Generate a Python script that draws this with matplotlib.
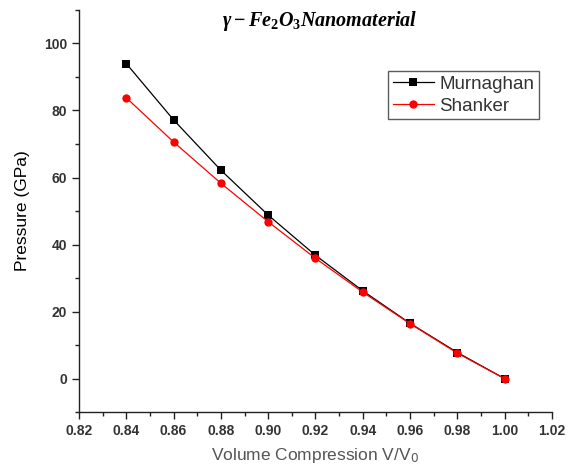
import numpy as np
import matplotlib.pyplot as plt
from matplotlib.ticker import MultipleLocator

plt.rcParams['font.family'] = ['Liberation Sans', 'DejaVu Sans']
plt.rcParams['mathtext.fontset'] = 'custom'
plt.rcParams['mathtext.it'] = 'Liberation Serif:italic:bold'
plt.rcParams['mathtext.rm'] = 'Liberation Serif:bold'

volume = [0.84, 0.86, 0.88, 0.90, 0.92, 0.94, 0.96, 0.98, 1.00]
murnaghan = [94.0, 77.2, 62.2, 48.8, 36.8, 26.2, 16.5, 7.8, 0.0]
shanker = [83.8, 70.6, 58.3, 46.8, 35.9, 25.8, 16.4, 7.6, 0.0]

fig = plt.figure(figsize=(5.72, 4.70), dpi=100)
ax = fig.add_axes([0.138, 0.123, 0.827, 0.856])

ax.plot(volume, murnaghan, '-s', c='black', lw=0.9, ms=6, mew=0,
        label='Murnaghan')
ax.plot(volume, shanker, '-o', c='red', lw=0.9, ms=6, mew=0,
        label='Shanker')

ax.set_xlim(0.82, 1.02)
ax.set_ylim(-10, 110)
ax.xaxis.set_major_locator(MultipleLocator(0.02))
ax.xaxis.set_minor_locator(MultipleLocator(0.01))
ax.yaxis.set_major_locator(MultipleLocator(20))
ax.yaxis.set_minor_locator(MultipleLocator(10))
ax.set_yticks([0, 20, 40, 60, 80, 100])
ax.xaxis.set_major_formatter(plt.FormatStrFormatter('%.2f'))

for s in ['top', 'right']:
    ax.spines[s].set_visible(False)
for s in ['left', 'bottom']:
    ax.spines[s].set_linewidth(1.0)
    ax.spines[s].set_color('#222222')

ax.tick_params(which='major', direction='out', length=5, width=1,
               labelsize=10, colors='#222222', labelcolor='#333333')
ax.tick_params(which='minor', direction='out', length=3, width=1,
               colors='#222222')
for lbl in ax.get_xticklabels() + ax.get_yticklabels():
    lbl.set_fontweight('bold')

ax.set_xlabel('Volume Compression V/V$_\\mathsf{0}$', fontsize=12.5,
              color='#555555', labelpad=6)
ax.set_ylabel('Pressure (GPa)', fontsize=12.5, color='black', labelpad=10)

fig.text(320 / 572, 1 - 21 / 470, r'$\gamma - Fe_2O_3Nanomaterial$',
         ha='center', va='center', fontsize=14.5)

leg = ax.legend(loc='upper left', bbox_to_anchor=(388 / 572, 1 - 71 / 470),
                bbox_transform=fig.transFigure,
                fontsize=13.5, frameon=True, fancybox=False, handlelength=2.2,
                borderpad=0.25, labelspacing=0.25, handletextpad=0.3,
                borderaxespad=0)
leg.get_frame().set_edgecolor('#333333')
leg.get_frame().set_linewidth(1.0)
for t in leg.get_texts():
    t.set_color('#333333')

fig.savefig('out.png')
